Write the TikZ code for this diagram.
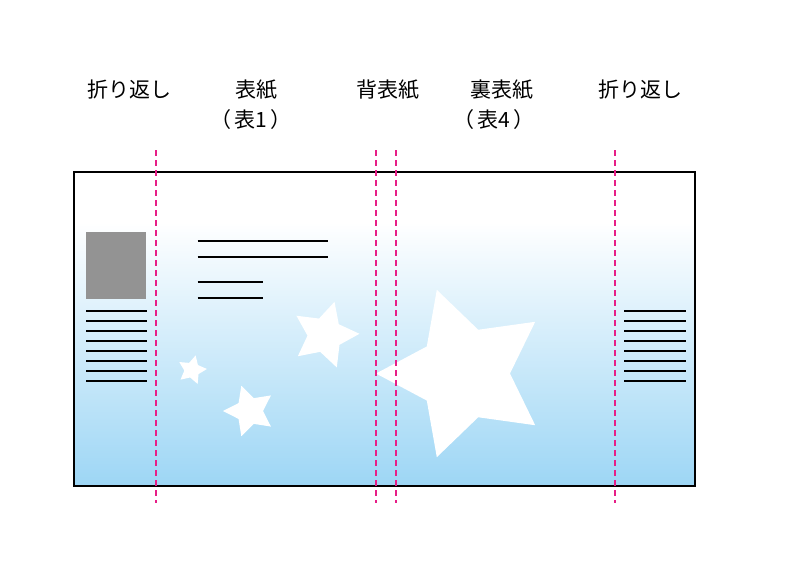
\documentclass[tikz,border=0pt]{standalone}
\usepackage{fontspec}
\newfontfamily\jp{Noto Sans CJK JP}
\definecolor{sky}{RGB}{157,214,245}
\definecolor{pinkline}{RGB}{230,30,135}
\definecolor{boxgray}{RGB}{147,147,147}
\pgfdeclareverticalshading{coverbg}{100bp}{color(0bp)=(sky); color(25bp)=(sky); color(67bp)=(white); color(100bp)=(white)}
\tikzset{
  label/.style={font=\jp\fontsize{21}{25}\selectfont, inner sep=0pt, anchor=center},
  textline/.style={line width=2.3pt, black},
  foldline/.style={pinkline, line width=2.1pt, dash pattern=on 6pt off 4pt},
  border/.style={black, line width=2pt},
}
\newcommand\drawstar[5]{\fill[white,shift={(#1,#2)}] (#5:#3) \foreach \k in {0,...,4}{ -- ({#5+\k*72+36}:#4) -- ({#5+\k*72+72}:#3)} -- cycle;}
\begin{document}
\begin{tikzpicture}[x=1pt,y=-1pt]
\useasboundingbox (0,0) rectangle (796,566);
% background
\shade[shading=coverbg] (74,171.5) rectangle (695,486);
% stars
\drawstar{464}{373.5}{88}{46}{180}
\drawstar{325}{335}{34.5}{17.5}{-2}
\drawstar{249.5}{411}{26.5}{13.5}{180}
\drawstar{192}{370}{15}{7.7}{-4}
% gray picture box
\fill[boxgray] (85.7,232.3) rectangle (145.7,299.3);
% text lines left and right
\foreach \yy in {311,321,331,341,351,361,371,381}{
  \draw[textline] (86,\yy) -- (146.5,\yy);
  \draw[textline] (624,\yy) -- (685.5,\yy);
}
% title lines
\draw[textline] (197.5,240.7) -- (328,240.7);
\draw[textline] (197.5,257.3) -- (328,257.3);
\draw[textline] (197.5,281.7) -- (262.5,281.7);
\draw[textline] (197.5,298.3) -- (262.5,298.3);
% border
\draw[border] (74,171.5) rectangle (695,486);
% fold lines
\foreach \xx in {156,376,396,615}{
  \draw[foldline] (\xx,150) -- (\xx,503);
}
% labels
\node[label] (l1) at (129,90) {折り返し};
\node[label] (l2) at (256,90) {表紙};
\node[label] (l3) at (251,120) {（\kern3pt 表1\kern3pt）};
\node[label] (l4) at (388,90) {背表紙};
\node[label] (l5) at (502,90) {裏表紙};
\node[label] (l6) at (494,120) {（\kern3pt 表4\kern3pt）};
\node[label] (l7) at (640,90) {折り返し};
\end{tikzpicture}
\end{document}
